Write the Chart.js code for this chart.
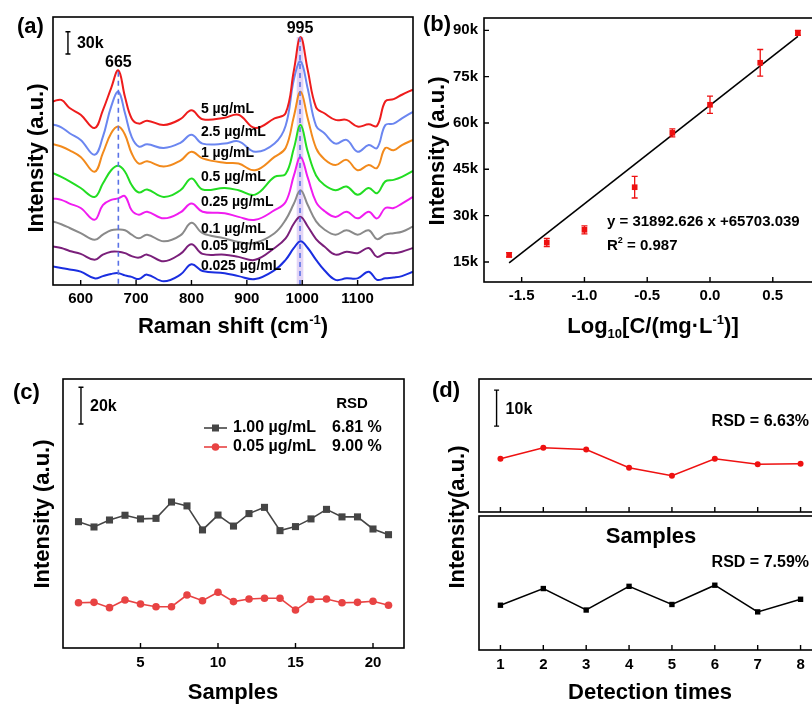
<!DOCTYPE html>
<html>
<head>
<meta charset="utf-8">
<script src="https://cdn.jsdelivr.net/npm/chart.js@4.4.1/dist/chart.umd.min.js"></script>
<style>
  html, body { margin: 0; padding: 0; background: #fff; overflow: hidden; }
  #page { position: relative; width: 812px; height: 705px; overflow: hidden; background: #fff; }
  canvas { position: absolute; }
</style>
</head>
<body>
<div id="page">
  <canvas id="chartA" style="left:0;top:0" width="420" height="345"></canvas>
  <canvas id="chartB" style="left:400px;top:0" width="440" height="345"></canvas>
  <canvas id="chartC" style="left:0;top:360px" width="420" height="345"></canvas>
  <canvas id="chartD2" style="left:400px;top:360px" width="440" height="345"></canvas>
  <canvas id="chartD1" style="left:400px;top:360px" width="440" height="156"></canvas>
</div>
<script>
// --------------------------
// data
// --------------------------
// (a) SERS spectra, intensity in k counts (stacked, offsets included)
const ramanShift = [550, 565, 580, 600, 625, 640, 655, 668, 680, 692, 705, 720, 750, 780, 800, 820, 860, 885, 915, 950, 970, 985, 997, 1010, 1025, 1040, 1060, 1080, 1100, 1120, 1135, 1150, 1165, 1180, 1200];
const spec5    = [248, 250, 239, 230, 212, 236, 266, 290, 254, 225, 218, 222, 216, 224, 236, 224, 226, 230, 212, 225, 232, 290, 335, 290, 240, 232, 223, 223, 214, 217, 215, 248, 251, 257, 264];
const spec2_5  = [217, 213, 205, 196, 176, 200, 241, 261, 232, 200, 187, 190, 185, 192, 203, 191, 191, 194, 180, 191, 215, 278, 302, 265, 215, 205, 191, 196, 180, 189, 185, 216, 218, 225, 234];
const spec1    = [190, 187, 182, 173, 153, 178, 205, 214, 203, 178, 164, 167, 160, 168, 180, 171, 165, 164, 155, 173, 185, 228, 261, 225, 185, 170, 162, 169, 155, 162, 158, 185, 182, 189, 196];
const spec0_5  = [151, 146, 140, 131, 119, 137, 155, 161, 153, 135, 125, 129, 119, 128, 144, 129, 131, 128, 122, 146, 150, 185, 216, 180, 148, 135, 128, 133, 122, 131, 124, 140, 142, 146, 154];
const spec0_25 = [117, 115, 110, 104, 88, 108, 115, 117, 120, 101, 95, 99, 90, 98, 110, 99, 97, 92, 88, 101, 112, 148, 173, 145, 112, 100, 92, 99, 90, 99, 90, 104, 104, 110, 119];
const spec0_1  = [86, 82, 77, 70, 61, 68, 74, 75, 74, 68, 63, 68, 59, 67, 84, 70, 63, 58, 57, 70, 88, 110, 128, 108, 86, 75, 68, 74, 68, 74, 62, 68, 70, 72, 79];
const spec0_05 = [52, 50, 46, 42, 34, 41, 45, 45, 43, 39, 37, 41, 32, 42, 55, 42, 41, 38, 34, 50, 63, 83, 92, 79, 62, 52, 41, 45, 43, 50, 38, 43, 43, 45, 50];
const spec0_025 = [25, 23, 21, 18, 9, 12, 15, 16, 13, 11, 8, 14, 5, 14, 28, 19, 16, 12, 8, 20, 34, 50, 59, 50, 34, 20, 7, 9, 9, 18, 7, 9, 10, 12, 18];
const specSeries = [spec5, spec2_5, spec1, spec0_5, spec0_25, spec0_1, spec0_05, spec0_025];
const specNames = ["5 µg/mL", "2.5 µg/mL", "1 µg/mL", "0.5 µg/mL", "0.25 µg/mL", "0.1 µg/mL", "0.05 µg/mL", "0.025 µg/mL"];
const ramanTicks = [600, 700, 800, 900, 1000, 1100];
const peakMarks = [668, 996];

// (b) calibration
const logConc = [-1.6, -1.3, -1.0, -0.6, -0.3, 0.0, 0.4, 0.7];
const calIntensity = [17300, 21300, 25400, 39200, 56800, 65900, 79500, 89200];
const calError = [700, 1300, 1300, 3500, 1300, 2800, 4300, 800];
const fitSlope = 31892.626;
const fitIntercept = 65703.039;
const fitRange = [-1.6, 0.7];
const logTicks = [-1.5, -1.0, -0.5, 0.0, 0.5];
const calTicks = [15000, 30000, 45000, 60000, 75000, 90000];

// (c) reproducibility, intensity in k
const sampleNo = [1, 2, 3, 4, 5, 6, 7, 8, 9, 10, 11, 12, 13, 14, 15, 16, 17, 18, 19, 20, 21];
const rep1_00 = [68.9, 66.0, 69.8, 72.4, 70.4, 70.7, 79.6, 77.5, 64.4, 72.5, 66.5, 73.3, 76.7, 64.0, 66.2, 70.4, 75.6, 71.5, 71.5, 64.9, 61.8];
const rep0_05 = [24.7, 24.9, 22.0, 26.2, 24.0, 22.5, 22.5, 28.9, 25.8, 30.4, 25.3, 26.7, 27.1, 27.1, 20.7, 26.5, 26.7, 24.7, 24.9, 25.5, 23.3];
const sampleTicks = [5, 10, 15, 20];

// (d) repeated detection, intensity in k
const detectNo = [1, 2, 3, 4, 5, 6, 7, 8];
const detRed = [14.8, 17.9, 17.4, 12.3, 10.1, 14.8, 13.3, 13.4];
const detBlack = [12.1, 16.6, 10.8, 17.2, 12.3, 17.5, 10.3, 13.7];

// --------------------------
// styles / helpers
// --------------------------
const FONT = "'Liberation Sans', Arial, Helvetica, sans-serif";
Chart.defaults.font.family = FONT;
Chart.defaults.font.size = 15;
Chart.defaults.font.weight = "bold";
Chart.defaults.color = "#000";
Chart.defaults.animation = false;
Chart.defaults.plugins.legend.display = false;
Chart.defaults.plugins.tooltip.enabled = false;

const specColors = ["#ee1c1c", "#6b86f0", "#f28a1c", "#22dd22", "#f01cf0", "#8a8a8a", "#7a1f7a", "#1a2ee0"];

function pts(xs, ys) {
  return xs.map((x, i) => ({ x, y: ys[i] }));
}

function text(ctx, str, x, y, size, align = "left", rotate = false) {
  ctx.save();
  ctx.font = `bold ${size}px ${FONT}`;
  ctx.fillStyle = "#000";
  ctx.textBaseline = "middle";
  ctx.textAlign = align;
  if (rotate) {
    ctx.translate(x, y);
    ctx.rotate(-Math.PI / 2);
    ctx.fillText(str, 0, 0);
  } else {
    ctx.fillText(str, x, y);
  }
  ctx.restore();
}

// text with sub/superscripts: parts = [{t, s, dy}]
function rich(ctx, parts, x, y, align = "center", rotate = false) {
  ctx.save();
  ctx.fillStyle = "#000";
  ctx.textBaseline = "alphabetic";
  let w = 0;
  parts.forEach(p => { ctx.font = `bold ${p.s}px ${FONT}`; p.w = ctx.measureText(p.t).width; w += p.w; });
  ctx.translate(x, y);
  if (rotate) ctx.rotate(-Math.PI / 2);
  let cx = align === "center" ? -w / 2 : 0;
  const base = parts[0].s * 0.36;
  parts.forEach(p => {
    ctx.font = `bold ${p.s}px ${FONT}`;
    ctx.fillText(p.t, cx, base + (p.dy || 0));
    cx += p.w;
  });
  ctx.restore();
}

function frame(chart) {
  const { ctx, chartArea: a } = chart;
  ctx.save();
  ctx.strokeStyle = "#000";
  ctx.lineWidth = 1.6;
  ctx.strokeRect(a.left, a.top, a.right - a.left, a.bottom - a.top);
  ctx.restore();
}

function innerTicks(chart, axis, len = 5) {
  const { ctx, chartArea: a } = chart;
  const s = chart.scales[axis];
  ctx.save();
  ctx.strokeStyle = "#000";
  ctx.lineWidth = 1.4;
  ctx.beginPath();
  s.ticks.forEach(t => {
    const p = s.getPixelForValue(t.value);
    if (axis === "x") { ctx.moveTo(p, a.bottom); ctx.lineTo(p, a.bottom - len); }
    else { ctx.moveTo(a.left, p); ctx.lineTo(a.left + len, p); }
  });
  ctx.stroke();
  ctx.restore();
}

function scaleBar(chart, xv, y0, y1, label) {
  const { ctx } = chart;
  const x = chart.scales.x.getPixelForValue(xv);
  const p0 = chart.scales.y.getPixelForValue(y0);
  const p1 = chart.scales.y.getPixelForValue(y1);
  ctx.save();
  ctx.strokeStyle = "#000";
  ctx.lineWidth = 1.4;
  ctx.beginPath();
  ctx.moveTo(x, p0); ctx.lineTo(x, p1);
  ctx.moveTo(x - 2.5, p0); ctx.lineTo(x + 2.5, p0);
  ctx.moveTo(x - 2.5, p1); ctx.lineTo(x + 2.5, p1);
  ctx.stroke();
  ctx.restore();
  text(ctx, label, x + 9, (p0 + p1) / 2 + 1, 16);
}

function xScale(min, max, ticks, height, pad, fmt) {
  return {
    type: "linear", min, max,
    afterBuildTicks: s => { s.ticks = ticks.map(v => ({ value: v })); },
    afterFit: s => { s.height = height; },
    grid: { display: false, drawTicks: false },
    border: { display: false },
    ticks: { display: height > 0, padding: pad, font: { size: 15, weight: "bold" }, callback: fmt || (v => String(v)) }
  };
}

function hiddenY(min, max, width) {
  return {
    min, max,
    afterFit: s => { s.width = width; },
    grid: { display: false, drawTicks: false },
    border: { display: false },
    ticks: { display: false }
  };
}

// --------------------------
// (a) spectra
// --------------------------
new Chart(document.getElementById("chartA"), {
  type: "line",
  data: {
    datasets: specSeries.map((s, i) => ({
      label: specNames[i],
      data: pts(ramanShift, s),
      borderColor: specColors[i],
      borderWidth: 2,
      pointRadius: 0,
      tension: 0.4,
      fill: false
    }))
  },
  options: {
    responsive: false,
    layout: { padding: { top: 17, right: 7, left: 0, bottom: 0 } },
    scales: {
      x: xScale(550, 1200, ramanTicks, 60, 5),
      y: hiddenY(0, 362, 53)
    }
  },
  plugins: [{
    id: "decorA",
    beforeDatasetsDraw(chart) {
      const { ctx } = chart;
      const sx = chart.scales.x, sy = chart.scales.y;
      ctx.save();
      ctx.fillStyle = "rgba(190,160,235,0.45)";
      const l = sx.getPixelForValue(990), r = sx.getPixelForValue(1002);
      ctx.fillRect(l, sy.getPixelForValue(335), r - l, sy.getPixelForValue(0) - sy.getPixelForValue(335));
      ctx.restore();
    },
    afterDatasetsDraw(chart) {
      const { ctx } = chart;
      const sx = chart.scales.x, sy = chart.scales.y;
      ctx.save();
      ctx.strokeStyle = "#5a72e6";
      ctx.lineWidth = 1.6;
      ctx.setLineDash([5, 4]);
      const tops = [288, 335];
      peakMarks.forEach((m, i) => {
        const x = sx.getPixelForValue(m);
        ctx.beginPath();
        ctx.moveTo(x, sy.getPixelForValue(tops[i]));
        ctx.lineTo(x, sy.getPixelForValue(0));
        ctx.stroke();
      });
      ctx.restore();
    },
    afterDraw(chart) {
      const { ctx } = chart;
      const sx = chart.scales.x, sy = chart.scales.y;
      frame(chart);
      innerTicks(chart, "x");
      const labelY = [238, 206, 178, 146, 112, 76, 52, 25];
      specNames.forEach((n, i) => text(ctx, n, sx.getPixelForValue(817), sy.getPixelForValue(labelY[i]), 14));
      text(ctx, "665", sx.getPixelForValue(668), sy.getPixelForValue(301), 16, "center");
      text(ctx, "995", sx.getPixelForValue(996), sy.getPixelForValue(347), 16, "center");
      scaleBar(chart, 577, 312, 342, "30k");
      text(ctx, "(a)", 17, 27, 22);
      text(ctx, "Intensity (a.u.)", 37, 158, 22, "center", true);
      rich(ctx, [{ t: "Raman shift (cm", s: 22 }, { t: "-1", s: 13, dy: -9 }, { t: ")", s: 22 }], 233, 325);
    }
  }]
});

// --------------------------
// (b) calibration
// --------------------------
new Chart(document.getElementById("chartB"), {
  type: "scatter",
  data: {
    datasets: [
      {
        data: pts(logConc, calIntensity),
        pointStyle: "rect",
        pointRadius: 4,
        backgroundColor: "#ee1111",
        borderColor: "#ee1111",
        borderWidth: 0
      },
      {
        data: pts(fitRange, fitRange.map(x => fitSlope * x + fitIntercept)),
        showLine: true,
        borderColor: "#000",
        borderWidth: 1.6,
        pointRadius: 0
      }
    ]
  },
  options: {
    responsive: false,
    layout: { padding: { top: 18, right: 17, left: 0, bottom: 0 } },
    scales: {
      x: xScale(-1.8, 0.9, logTicks, 63, 5, v => v.toFixed(1)),
      y: {
        min: 8500, max: 94000,
        afterBuildTicks: s => { s.ticks = calTicks.map(v => ({ value: v })); },
        afterFit: s => { s.width = 84; },
        grid: { display: false, drawTicks: false },
        border: { display: false },
        ticks: { padding: 6, font: { size: 15, weight: "bold" }, callback: v => (v / 1000) + "k" }
      }
    }
  },
  plugins: [{
    id: "decorB",
    afterDatasetsDraw(chart) {
      const { ctx } = chart;
      const sx = chart.scales.x, sy = chart.scales.y;
      ctx.save();
      ctx.strokeStyle = "#ee1111";
      ctx.lineWidth = 1.3;
      ctx.beginPath();
      logConc.forEach((x, i) => {
        const px = sx.getPixelForValue(x);
        const hi = sy.getPixelForValue(calIntensity[i] + calError[i]);
        const lo = sy.getPixelForValue(calIntensity[i] - calError[i]);
        ctx.moveTo(px, hi); ctx.lineTo(px, lo);
        ctx.moveTo(px - 3, hi); ctx.lineTo(px + 3, hi);
        ctx.moveTo(px - 3, lo); ctx.lineTo(px + 3, lo);
      });
      ctx.stroke();
      ctx.restore();
    },
    afterDraw(chart) {
      const { ctx } = chart;
      frame(chart);
      innerTicks(chart, "x");
      innerTicks(chart, "y");
      text(ctx, "(b)", 23, 25, 22);
      text(ctx, "y = 31892.626 x +65703.039", 207, 222, 15);
      rich(ctx, [{ t: "R", s: 15 }, { t: "2", s: 9, dy: -7 }, { t: " = 0.987", s: 15 }], 207, 245, "left");
      text(ctx, "Intensity (a.u.)", 38, 151, 22, "center", true);
      rich(ctx, [{ t: "Log", s: 22 }, { t: "10", s: 13, dy: 5 }, { t: "[C/(mg·L", s: 22 }, { t: "-1", s: 13, dy: -9 }, { t: ")]", s: 22 }], 253, 325);
    }
  }]
});

// --------------------------
// (c) reproducibility
// --------------------------
const colC = { gray: "#454545", red: "#e84343" };
new Chart(document.getElementById("chartC"), {
  type: "line",
  data: {
    datasets: [
      {
        label: "1.00 µg/mL",
        data: pts(sampleNo, rep1_00),
        borderColor: colC.gray, backgroundColor: colC.gray,
        borderWidth: 1.6, pointStyle: "rect", pointRadius: 5, pointBorderWidth: 0
      },
      {
        label: "0.05 µg/mL",
        data: pts(sampleNo, rep0_05),
        borderColor: colC.red, backgroundColor: colC.red,
        borderWidth: 1.6, pointStyle: "circle", pointRadius: 3.8, pointBorderWidth: 0
      }
    ]
  },
  options: {
    responsive: false,
    layout: { padding: { top: 19, right: 16, left: 0, bottom: 0 } },
    scales: {
      x: xScale(0, 22, sampleTicks, 57, 6),
      y: hiddenY(0, 146.7, 63)
    }
  },
  plugins: [{
    id: "decorC",
    afterDraw(chart) {
      const { ctx } = chart;
      frame(chart);
      innerTicks(chart, "x");
      scaleBar(chart, 1.16, 122.2, 142.2, "20k");
      text(ctx, "(c)", 13, 33, 22);
      text(ctx, "RSD", 352, 44, 15, "center");
      const rows = [
        { y: 68, c: colC.gray, name: "1.00 µg/mL", rsd: "6.81 %", rect: true },
        { y: 87, c: colC.red, name: "0.05 µg/mL", rsd: "9.00 %", rect: false }
      ];
      rows.forEach(r => {
        ctx.save();
        ctx.strokeStyle = r.c; ctx.fillStyle = r.c; ctx.lineWidth = 1.6;
        ctx.beginPath(); ctx.moveTo(204, r.y); ctx.lineTo(227, r.y); ctx.stroke();
        ctx.beginPath();
        if (r.rect) ctx.rect(212, r.y - 3.5, 7, 7);
        else ctx.arc(215.5, r.y, 3.8, 0, Math.PI * 2);
        ctx.fill();
        ctx.restore();
        text(ctx, r.name, 233, r.y, 16);
        text(ctx, r.rsd, 332, r.y, 16);
      });
      text(ctx, "Intensity (a.u.)", 43, 154, 22, "center", true);
      text(ctx, "Samples", 233, 333, 22, "center");
    }
  }]
});

// --------------------------
// (d) repeated detection: bottom panel (also carries shared texts)
// --------------------------
new Chart(document.getElementById("chartD2"), {
  type: "line",
  data: {
    datasets: [{
      data: pts(detectNo, detBlack),
      borderColor: "#000", backgroundColor: "#000",
      borderWidth: 1.5, pointStyle: "rect", pointRadius: 3.8, pointBorderWidth: 0
    }]
  },
  options: {
    responsive: false,
    layout: { padding: { top: 156, right: 18, left: 0, bottom: 0 } },
    scales: {
      x: xScale(0.5, 8.5, detectNo, 55, 6),
      y: hiddenY(0, 36.2, 79)
    }
  },
  plugins: [{
    id: "decorD2",
    afterDraw(chart) {
      const { ctx } = chart;
      frame(chart);
      innerTicks(chart, "x");
      text(ctx, "(d)", 32, 31, 22);
      text(ctx, "Intensity(a.u.)", 58, 157, 22, "center", true);
      text(ctx, "Detection times", 250, 333, 22, "center");
      text(ctx, "Samples", 251, 177, 22, "center");
      text(ctx, "RSD = 6.63%", 409, 62, 16, "right");
      text(ctx, "RSD = 7.59%", 409, 203, 16, "right");
    }
  }]
});

// (d) top panel
new Chart(document.getElementById("chartD1"), {
  type: "line",
  data: {
    datasets: [{
      data: pts(detectNo, detRed),
      borderColor: "#ee1111", backgroundColor: "#ee1111",
      borderWidth: 1.5, pointStyle: "circle", pointRadius: 3, pointBorderWidth: 0
    }]
  },
  options: {
    responsive: false,
    layout: { padding: { top: 19, right: 18, left: 0, bottom: 0 } },
    scales: {
      x: xScale(0.5, 8.5, detectNo, 0, 0),
      y: hiddenY(0, 37, 79)
    }
  },
  plugins: [{
    id: "decorD1",
    afterDraw(chart) {
      frame(chart);
      innerTicks(chart, "x");
      scaleBar(chart, 0.91, 23.9, 33.9, "10k");
    }
  }]
});
</script>
</body>
</html>
